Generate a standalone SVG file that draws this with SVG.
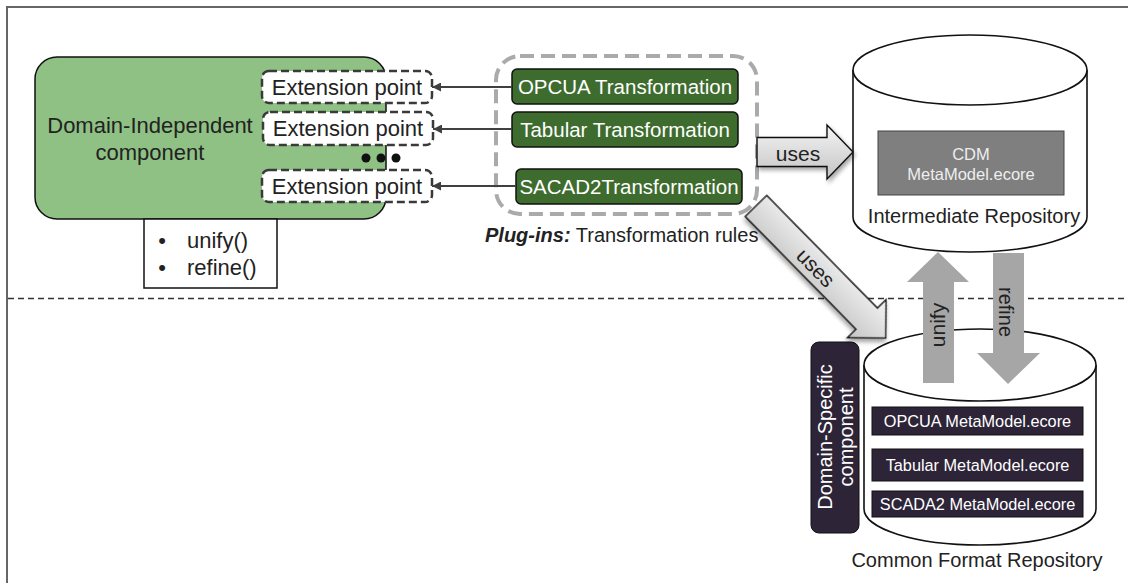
<svg xmlns="http://www.w3.org/2000/svg" width="1128" height="583" viewBox="0 0 1128 583">
<defs>
<style>
text{font-family:"Liberation Sans",Arial,sans-serif;fill:#222}
.ext{fill:#fff;stroke:#3a3a3a;stroke-width:2.5;stroke-dasharray:8 4}
.ext-t{font-size:22px;text-anchor:middle}
.tr{fill:#3e6c2e;stroke:#111;stroke-width:1.5}
.tr-t{font-size:20.5px;fill:#fff;text-anchor:middle}
.mm{fill:#2e2438;stroke:#111;stroke-width:1}
.mm-t{font-size:16.3px;fill:#fff;text-anchor:middle}
.conn{stroke:#404040;stroke-width:2;fill:none}
.cyl{fill:#fff;stroke:#111;stroke-width:1.6}
.uses{fill:url(#ug);stroke:#111;stroke-width:1.4;filter:url(#sh)}
.ga{fill:#a6a6a6}
.lbl{font-size:21px;text-anchor:middle}
</style>
<linearGradient id="ug" x1="0" y1="0" x2="0" y2="1">
<stop offset="0" stop-color="#f4f4f4"/>
<stop offset="1" stop-color="#c4c4c4"/>
</linearGradient>
<filter id="sh" x="-20%" y="-50%" width="140%" height="200%">
<feDropShadow dx="2" dy="3" stdDeviation="2" flood-color="#000" flood-opacity="0.35"/>
</filter>
<marker id="ah" viewBox="0 0 10 10" refX="10" refY="5" markerWidth="10" markerHeight="9" markerUnits="userSpaceOnUse" orient="auto">
<path d="M0,0 L10,5 L0,10 Z" fill="#404040"/>
</marker>
</defs>

<rect x="7" y="7" width="1130" height="590" fill="#fff" stroke="#666" stroke-width="2"/>
<line x1="8" y1="298.5" x2="1128" y2="298.5" stroke="#333" stroke-width="1.5" stroke-dasharray="6 4"/>

<g id="domain-independent">
<rect x="35" y="57" width="351" height="162" rx="22" fill="#8fc184" stroke="#111" stroke-width="1.5"/>
<text x="150" y="133" font-size="22" text-anchor="middle">Domain-Independent</text>
<text x="150" y="160" font-size="22" text-anchor="middle">component</text>
<circle cx="366" cy="158" r="4.5" fill="#111"/>
<circle cx="381" cy="158" r="4.5" fill="#111"/>
<circle cx="396" cy="158" r="4.5" fill="#111"/>
</g>

<g id="methods">
<rect x="144" y="219" width="133" height="69" fill="#fff" stroke="#111" stroke-width="1.5"/>
<text x="162" y="248" font-size="22" text-anchor="middle">•</text>
<text x="187" y="248" font-size="22">unify()</text>
<text x="162" y="275" font-size="22" text-anchor="middle">•</text>
<text x="187" y="275" font-size="22">refine()</text>
</g>

<g id="ext1"><rect class="ext" x="262" y="71" width="170" height="32" rx="7"/><text class="ext-t" x="347" y="95">Extension point</text></g>
<g id="ext2"><rect class="ext" x="263" y="112" width="170" height="33" rx="7"/><text class="ext-t" x="348" y="136">Extension point</text></g>
<g id="ext3"><rect class="ext" x="262" y="170" width="170" height="32" rx="7"/><text class="ext-t" x="347" y="194">Extension point</text></g>

<g id="plugins">
<rect x="496" y="56" width="261" height="158" rx="24" fill="none" stroke="#aaa" stroke-width="4" stroke-dasharray="14 7"/>
<text x="485" y="242" font-size="20"><tspan font-weight="bold" font-style="italic">Plug-ins:</tspan> Transformation rules</text>
</g>

<g id="opcua-tr"><rect class="tr" x="512" y="69" width="226" height="35" rx="5"/><text class="tr-t" x="625" y="94">OPCUA Transformation</text></g>
<g id="tabular-tr"><rect class="tr" x="512" y="112" width="226" height="35" rx="5"/><text class="tr-t" x="625" y="137">Tabular Transformation</text></g>
<g id="sacad-tr"><rect class="tr" x="516" y="169" width="226" height="35" rx="5"/><text class="tr-t" x="629" y="194">SACAD2Transformation</text></g>

<g id="intermediate-repo">
<path class="cyl" d="M853,70 L853,217 A117,35 0 0 0 1087,217 L1087,70"/>
<ellipse class="cyl" cx="970" cy="70" rx="117" ry="35"/>
<rect x="878" y="131" width="186" height="64" fill="#7f7f7f" stroke="#444" stroke-width="1"/>
<text x="971" y="160" font-size="16.5" text-anchor="middle" style="fill:#eee">CDM</text>
<text x="971" y="180" font-size="16.5" text-anchor="middle" style="fill:#eee">MetaModel.ecore</text>
<text x="974" y="223" font-size="20" text-anchor="middle">Intermediate Repository</text>
</g>

<g id="common-repo">
<path class="cyl" d="M864,365 L864,509 A116,36 0 0 0 1096,509 L1096,365"/>
<ellipse class="cyl" cx="980" cy="365" rx="116" ry="36"/>
<text x="977" y="567" font-size="20" text-anchor="middle">Common Format Repository</text>
</g>

<g id="mm-opcua"><rect class="mm" x="872" y="407" width="211" height="28"/><text class="mm-t" x="977.5" y="427">OPCUA MetaModel.ecore</text></g>
<g id="mm-tabular"><rect class="mm" x="872" y="449" width="211" height="32"/><text class="mm-t" x="977.5" y="471">Tabular MetaModel.ecore</text></g>
<g id="mm-scada"><rect class="mm" x="872" y="491" width="211" height="26"/><text class="mm-t" x="977.5" y="510">SCADA2 MetaModel.ecore</text></g>

<g id="domain-specific">
<rect x="811" y="342" width="48" height="191" rx="8" fill="#2e2438" stroke="#111" stroke-width="1"/>
<text transform="translate(832,437) rotate(-90)" font-size="20" text-anchor="middle" style="fill:#fff">Domain-Specific</text>
<text transform="translate(853,437) rotate(-90)" font-size="20" text-anchor="middle" style="fill:#fff">component</text>
</g>

<g id="connectors">
<line class="conn" x1="512" y1="87" x2="432" y2="87" marker-end="url(#ah)"/>
<line class="conn" x1="512" y1="129" x2="433" y2="129" marker-end="url(#ah)"/>
<line class="conn" x1="516" y1="186" x2="432" y2="186" marker-end="url(#ah)"/>

<g transform="translate(757,152)">
<path class="uses" d="M0,-14.5 L70,-14.5 L70,-27 L96,0 L70,27 L70,14.5 L0,14.5 Z"/>
<text class="lbl" x="41" y="9">uses</text>
</g>
<g transform="translate(756,206) rotate(45.5)">
<path class="uses" d="M0,-15 L158,-15 L158,-27 L185,0 L158,27 L158,15 L0,15 Z"/>
<text class="lbl" x="86" y="8">uses</text>
</g>

<g id="unify-arrow">
<polygon class="ga" points="938,252 969,282 954,282 954,383 923,383 923,282 907,282"/>
<text transform="translate(945,325) rotate(-90)" class="lbl">unify</text>
</g>
<g id="refine-arrow">
<polygon class="ga" points="993,253 1024,253 1024,353 1040,353 1008,384 977,353 993,353"/>
<text transform="translate(999,312) rotate(90)" font-size="20" text-anchor="middle">refine</text>
</g>
</g>
</svg>
